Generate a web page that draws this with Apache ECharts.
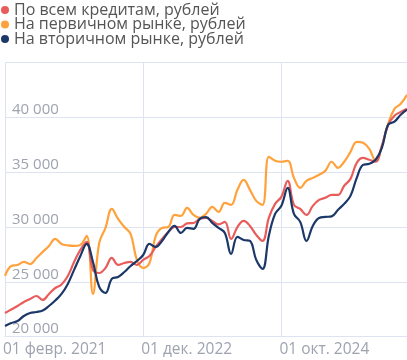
<!DOCTYPE html>
<html><head><meta charset="utf-8">
<script src="https://cdn.jsdelivr.net/npm/echarts@6/dist/echarts.min.js"></script>
<style>html,body{margin:0;padding:0;background:#fff}#c{width:407px;height:360px}</style>
</head><body><div id="c"></div>
<script>
var monthNames = ['янв.','февр.','март','апр.','май','июнь','июль','авг.','сент.','окт.','нояб.','дек.'];
var startYear = 2021, startMonth = 1, monthCount = 65;
var categories = [];
for (var k = 0; k < monthCount; k++) {
  var m = (startMonth + k) % 12, y = startYear + Math.floor((startMonth + k) / 12);
  categories.push('01 ' + monthNames[m] + ' ' + y);
}
var seriesNames = ['По всем кредитам, рублей', 'На первичном рынке, рублей', 'На вторичном рынке, рублей'];
var allCredits = [22160,22480,22800,23170,23440,23710,23350,23900,24440,24760,25540,26810,27910,28640,26090,25810,26270,27180,26540,26720,26820,26540,27000,
  27360,28185,28915,29550,30000,30000,30330,30370,30740,30830,30560,30240,30470,28915,30000,30560,30100,29280,28730,30830,32110,32750,34200,32020,31650,31100,31930,32470,32660,32930,32930,33760,34390,35850,36300,36130,35950,37400,39320,40140,40500,40780];
var primary = [25540,26450,26540,26815,26630,27180,27730,28275,28915,28460,28320,28275,28370,29190,23900,28550,29920,31650,30740,30000,29370,27000,26270,
  26720,29190,29920,30000,31100,31010,31740,31100,30830,31200,31835,31380,32200,32020,33390,34300,33390,32380,32020,36400,36040,35950,36040,34480,33570,34210,34480,34760,35120,35950,35400,35950,36850,37770,37680,37130,36040,37400,39400,40770,41230,42050];
var secondary = [20980,21250,21430,21890,22160,22250,22390,22800,23300,23900,24810,26090,27360,28460,26820,24535,23990,25270,25450,25900,26450,26900,27450,
  28460,28185,28730,29550,30100,29460,29920,29830,30740,30900,30380,29920,29460,27550,29100,28820,28730,27000,26180,29190,31200,31930,33570,31200,30470,28730,30100,30830,30920,30970,31560,32110,32840,34480,35670,35760,36130,37220,39320,39600,40240,40690];
var colors = ['#e85d5b', '#ffa23c', '#1b3868'];
var yMin = 20000, yMax = 45000, yStep = 5000;

var chart = echarts.init(document.getElementById('c'), null, {renderer: 'canvas'});
var font = '"Open Sans", sans-serif';
var gridColor = '#dde3f1';
var labelColor = '#9ea3af';
chart.setOption({
  animation: false,
  color: colors,
  textStyle: {fontFamily: font},
  legend: {
    left: 1, top: 2, orient: 'vertical', itemGap: -1.5, padding: 0,
    icon: 'circle', itemWidth: 8, itemHeight: 8,
    textStyle: {fontSize: 16, color: '#555', fontFamily: font},
    data: seriesNames
  },
  grid: {left: 0, right: 0, top: 62.5, bottom: 23.3, containLabel: false},
  xAxis: {
    type: 'category', data: categories, boundaryGap: false,
    axisLine: {show: true, lineStyle: {color: gridColor}},
    axisTick: {show: false},
    axisLabel: {interval: 21, align: 'left', color: labelColor, fontSize: 15.5, fontFamily: font, margin: 5, padding: [0,0,0,-2]},
    splitLine: {show: true, interval: 21, lineStyle: {color: gridColor}}
  },
  yAxis: {
    type: 'value', min: yMin, max: yMax, interval: yStep,
    axisLine: {show: false}, axisTick: {show: false},
    axisLabel: {inside: true, verticalAlign: 'bottom', margin: 7, color: labelColor, fontSize: 15, fontFamily: font, showMaxLabel: false,
      formatter: function(v){ return String(v).replace(/\B(?=(\d{3})+(?!\d))/g, ' '); }},
    splitLine: {lineStyle: {color: gridColor}}
  },
  series: [
    {name: seriesNames[0], type: 'line', data: allCredits, smooth: 0.4, showSymbol: false, lineStyle: {width: 2.2}, z: 2},
    {name: seriesNames[1], type: 'line', data: primary, smooth: 0.4, showSymbol: false, lineStyle: {width: 2.2}, z: 1},
    {name: seriesNames[2], type: 'line', data: secondary, smooth: 0.4, showSymbol: false, lineStyle: {width: 2.2}, z: 3}
  ]
});
</script></body></html>
